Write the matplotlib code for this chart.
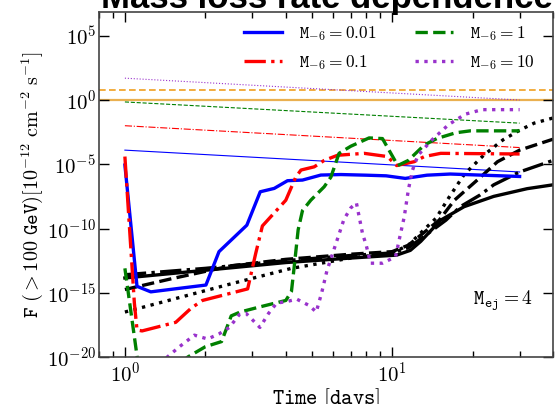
import matplotlib
matplotlib.use("Agg")
import matplotlib.pyplot as plt
from matplotlib.ticker import FixedLocator, NullFormatter, NullLocator
import numpy as np

plt.rcParams['mathtext.fontset'] = 'cm'
plt.rcParams['font.family'] = 'serif'
plt.rcParams['font.serif'] = ['cmr10', 'DejaVu Serif']
plt.rcParams['axes.formatter.use_mathtext'] = True

# light curves F(>100 GeV), stored as log10 of the flux
t_blue = [1.0, 1.11, 1.25, 2.01, 2.25, 2.86, 3.21, 3.62, 4.06, 4.62, 5.41, 6.43,
          8.0, 9.5, 11.2, 13.5, 16.5, 30.0]
lf_blue = [-5.06, -14.5, -14.93, -14.4, -11.8, -9.74, -7.14, -6.88, -6.28, -6.23,
           -5.84, -5.8, -5.85, -5.9, -6.1, -5.85, -5.76, -5.95]

t_red = [1.0, 1.085, 1.11, 1.16, 1.55, 1.77, 1.95, 2.88, 3.09, 3.27, 4.0, 4.36,
         4.56, 5.11, 5.57, 6.25, 7.86, 9.6, 10.4, 12.1, 13.2, 15.2, 30.0]
lf_red = [-4.4, -15.8, -17.9, -17.97, -17.3, -16.2, -15.6, -14.7, -11.9, -9.8,
          -7.8, -6.0, -5.45, -5.2, -4.7, -4.3, -4.15, -4.4, -5.1, -4.8, -4.4,
          -4.15, -4.2]

t_green = [1.0, 1.12, 1.5, 1.72, 2.0, 2.3, 2.5, 2.7, 3.2, 4.0, 4.2, 4.3, 4.45,
           4.62, 4.96, 5.57, 5.9, 6.33, 7.0, 8.2, 9.2, 10.5, 11.5, 13.2, 14.7,
           17.3, 19.6, 30.0]
lf_green = [-13.1, -20.5, -21.0, -20.0, -19.2, -18.8, -16.8, -16.5, -16.1, -15.6,
            -14.9, -13.0, -10.1, -8.6, -7.8, -6.75, -6.0, -4.15, -3.6, -2.95,
            -3.0, -5.1, -4.7, -3.5, -3.0, -2.55, -2.4, -2.4]

t_purple = [1.35, 1.6, 1.82, 2.04, 2.25, 2.46, 2.68, 2.84, 3.0, 3.2, 3.45, 3.7,
            4.0, 4.4, 4.9, 5.2, 5.45, 5.7, 6.0, 6.6, 7.0, 7.35, 7.75, 8.0, 8.3,
            9.2, 10.3, 10.7, 11.1, 11.5, 11.9, 12.5, 14.1, 16.3, 18.8, 21.7, 30.0]
lf_purple = [-20.5, -19.2, -18.3, -18.6, -18.2, -17.7, -16.7, -16.6, -17.1, -17.7,
             -16.6, -15.8, -15.7, -15.5, -16.0, -16.5, -15.0, -13.3, -11.9, -9.3,
             -8.4, -8.0, -10.4, -11.3, -12.7, -12.7, -12.2, -10.6, -9.1, -7.0,
             -5.5, -4.3, -3.1, -1.9, -1.1, -0.75, -0.75]

# black reference curves
t_k_solid = [1.0, 2.0, 4.0, 7.0, 10.4, 11.7, 12.8, 15.2, 18.6, 24.0, 32.0, 40.0]
lf_k_solid = [-13.85, -13.25, -12.65, -12.3, -12.07, -11.7, -11.0, -9.35, -8.3,
              -7.5, -6.9, -6.6]
t_k_dashed = [1.0, 1.5, 2.5, 4.0, 7.0, 10.0, 11.5, 13.0, 15.0, 17.1, 20.9, 24.8,
              30.0, 40.0]
lf_k_dashed = [-14.75, -13.9, -12.9, -12.4, -12.0, -11.8, -11.3, -10.4, -9.35,
               -7.8, -6.2, -4.8, -3.9, -3.05]
t_k_dashdot = [1.0, 2.0, 4.0, 7.0, 10.0, 11.5, 13.0, 15.9, 18.0, 21.3, 24.0,
               30.0, 40.0]
lf_k_dashdot = [-13.6, -13.1, -12.5, -12.1, -11.9, -11.5, -10.7, -9.35, -8.3,
                -7.4, -6.6, -5.6, -4.7]
t_k_dotted = [1.0, 2.5, 4.2, 7.0, 10.0, 11.5, 13.0, 14.6, 16.3, 18.6, 22.0, 26.0,
              30.0, 34.0, 40.0]
lf_k_dotted = [-16.5, -14.3, -13.1, -12.3, -11.9, -11.3, -10.2, -9.2, -7.6, -5.8,
               -4.3, -3.1, -2.35, -1.8, -1.4]

# thin sensitivity-like lines, start and end points
t_thin = [1.0, 30.0]
lf_thin_blue = [-3.9, -5.6]
lf_thin_red = [-2.0, -3.7]
lf_thin_green = [-0.15, -1.8]
lf_thin_purple = [1.7, 0.0]

# horizontal levels
lf_orange_solid = 0.0
lf_orange_dashed = 0.8

labels = [r'$\mathtt{M}_{-6}=0.01$', r'$\mathtt{M}_{-6}=0.1$',
          r'$\mathtt{M}_{-6}=1$', r'$\mathtt{M}_{-6}=10$']

purple = '#9932CC'


def F(lf):
    return 10.0 ** np.asarray(lf)


fig = plt.figure(figsize=(5.57, 4.04), dpi=100)
ax = fig.add_axes([99 / 557, 1 - 357 / 404, 454 / 557, 345 / 404])

ax.axhline(F(lf_orange_solid), color='#eab050', lw=1.6, zorder=1)
ax.axhline(F(lf_orange_dashed), color='#f0a020', lw=1.2, ls=(0, (4, 2)), zorder=1)

ax.plot(t_thin, F(lf_thin_blue), color='b', lw=0.8)
ax.plot(t_thin, F(lf_thin_red), color='r', lw=0.8, ls='-.')
ax.plot(t_thin, F(lf_thin_green), color='g', lw=0.8, ls='--')
ax.plot(t_thin, F(lf_thin_purple), color=purple, lw=0.8, ls=':')

ax.plot(t_k_solid, F(lf_k_solid), color='k', lw=2.4)
ax.plot(t_k_dashed, F(lf_k_dashed), color='k', lw=2.4, ls='--')
ax.plot(t_k_dashdot, F(lf_k_dashdot), color='k', lw=2.4, ls='-.')
ax.plot(t_k_dotted, F(lf_k_dotted), color='k', lw=2.4, ls=':')

l1, = ax.plot(t_blue, F(lf_blue), color='b', lw=2.4, label=labels[0])
l2, = ax.plot(t_red, F(lf_red), color='r', lw=2.4, ls='-.', label=labels[1])
l3, = ax.plot(t_green, F(lf_green), color='g', lw=2.4, ls='--', label=labels[2])
l4, = ax.plot(t_purple, F(lf_purple), color=purple, lw=2.4, ls=':', label=labels[3])

ax.set_xscale('log')
ax.set_yscale('log')
ax.set_xlim(0.8, 40)
ax.set_ylim(1e-20, 10 ** 6.85)

ax.set_xticks([1, 10])
ax.xaxis.set_minor_locator(FixedLocator([0.8, 0.9, 2, 3, 4, 5, 6, 7, 8, 9, 20, 30, 40]))
ax.xaxis.set_minor_formatter(NullFormatter())
ax.set_yticks([1e-20, 1e-15, 1e-10, 1e-5, 1e0, 1e5])
ax.yaxis.set_minor_locator(NullLocator())
ax.tick_params(which='both', direction='in', top=True, right=True, labelsize=15)
ax.tick_params(axis='y', pad=2)
ax.tick_params(which='major', length=7, width=1)
ax.tick_params(which='minor', length=4, width=1)
for s in ax.spines.values():
    s.set_color('#444444')
    s.set_linewidth(1.2)

ax.set_xlabel(r'$\mathtt{Time}\ [\mathtt{days}]$', fontsize=15.5, labelpad=0)
ax.set_ylabel(r'$\mathtt{F}\ (>\mathtt{100\ GeV})[10^{-12}\ \mathrm{cm}^{-2}\ \mathrm{s}^{-1}]$',
              fontsize=14.5)
ax.yaxis.set_label_coords(-0.119, 0.5)

ax.text(0.956, 0.165, r'$\mathtt{M}_{\mathtt{ej}}=4$', transform=ax.transAxes,
        ha='right', va='center', fontsize=14)

ax.legend(handles=[l1, l2, l3, l4], ncol=2, frameon=False, fontsize=12.5,
          loc='upper right', bbox_to_anchor=(0.995, 1.01), handlelength=2.2,
          handletextpad=1.0, columnspacing=2.2, labelspacing=0.6)

fig.text(327 / 557, 1 - 8 / 404, 'Mass loss rate dependence', ha='center',
         va='baseline', fontsize=25, fontweight='bold', family='Liberation Sans')

fig.savefig('out.png', dpi=100)
